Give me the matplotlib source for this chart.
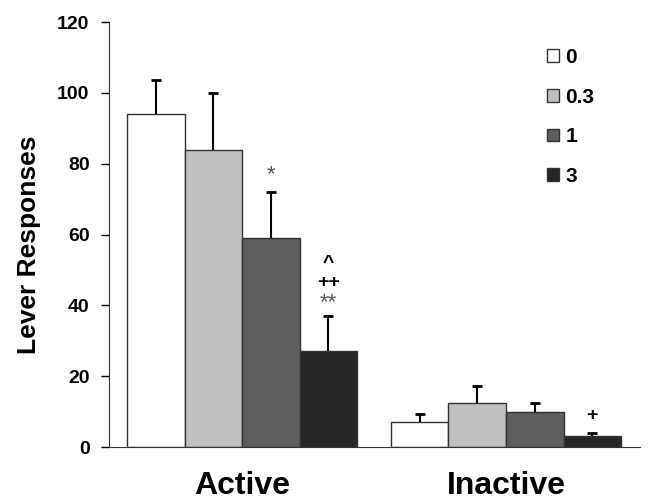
import matplotlib
matplotlib.use("Agg")
import matplotlib.pyplot as plt
from matplotlib.patches import Patch
import numpy as np

plt.rcParams['font.family'] = ['Liberation Sans', 'DejaVu Sans']

groups = ["Active", "Inactive"]
doses = ["0", "0.3", "1", "3"]
means = {
    "0":   [94, 7.1],
    "0.3": [84, 12.3],
    "1":   [59, 9.8],
    "3":   [27, 3.2],
}
errs = {
    "0":   [9.7, 2.2],
    "0.3": [16, 5.0],
    "1":   [13, 2.5],
    "3":   [10, 0.9],
}
colors = ["#ffffff", "#c0c0c0", "#5e5e5e", "#262626"]

fig = plt.figure(figsize=(6.54, 5.04), dpi=100)
ax = fig.add_axes([0.1667, 0.113, 0.812, 0.843])

x = np.arange(len(groups))
w = 0.218
offsets = (np.arange(len(doses)) - 1.5) * w
for i, d in enumerate(doses):
    ax.bar(x + offsets[i], means[d], width=w, color=colors[i],
           edgecolor="#333333", linewidth=1.0, label=d, zorder=2)
    _, caps, _ = ax.errorbar(x + offsets[i], means[d],
                             yerr=[np.zeros(len(groups)), errs[d]],
                             fmt="none", ecolor="black", elinewidth=1.5,
                             capsize=3.3, capthick=2, zorder=3)
    caps[0].set_visible(False)  # hide lower caps

def top(g, i):
    return means[doses[i]][g] + errs[doses[i]][g]

# significance markers (offsets relative to error bar tops)
ax.text(x[0] + offsets[2], top(0, 2) + 3.4, "*", ha="center", va="baseline",
        fontsize=16, color="#555555")
ax.text(x[0] + offsets[3], top(0, 3) + 2.3, "**", ha="center", va="baseline",
        fontsize=16, color="#555555")
ax.text(x[0] + offsets[3], top(0, 3) + 8.2, "++", ha="center", va="baseline",
        fontsize=14, fontweight="bold", color="black")
ax.text(x[0] + offsets[3], top(0, 3) + 13.6, "^", ha="center", va="baseline",
        fontsize=14, fontweight="bold", color="black")
ax.text(x[1] + offsets[3], top(1, 3) + 3.6, "+", ha="center", va="baseline",
        fontsize=14, fontweight="bold", color="black")

ax.set_xlim(-0.504, 1.508)
ax.set_ylim(0, 120)
ax.set_yticks(np.arange(0, 121, 20))
ax.set_xticks(x)
ax.set_xticklabels(groups, fontsize=23, fontweight="bold")
ax.tick_params(axis="x", length=0, pad=17)
ax.tick_params(axis="y", labelsize=14, direction="out", length=6, width=1, pad=8)
for lbl in ax.get_yticklabels():
    lbl.set_fontweight("bold")
ax.set_ylabel("Lever Responses", fontsize=19, fontweight="bold")
ax.yaxis.set_label_coords(-0.128, 0.475)
ax.spines["top"].set_visible(False)
ax.spines["right"].set_visible(False)
ax.spines["left"].set_color("#333333")
ax.spines["bottom"].set_color("#333333")

handles = [Patch(facecolor=colors[i], edgecolor="#333333", label=d) for i, d in enumerate(doses)]
ax.legend(handles=handles, loc="upper left", bbox_to_anchor=(0.825, 0.94),
          frameon=False, borderpad=0, borderaxespad=0,
          handlelength=0.58, handleheight=0.58, handletextpad=0.3,
          labelspacing=1.0, prop={"size": 15, "weight": "bold"})

fig.savefig("out.png", dpi=100)
